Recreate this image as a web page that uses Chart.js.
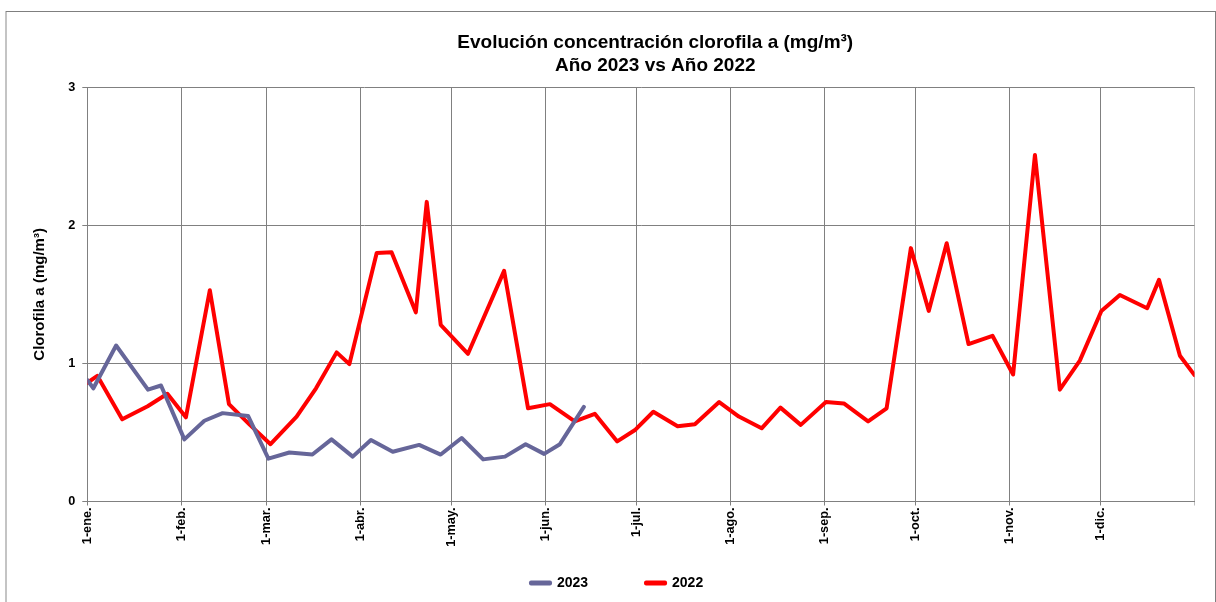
<!DOCTYPE html>
<html>
<head>
<meta charset="utf-8">
<script src="https://cdn.jsdelivr.net/npm/chart.js@4.4.1/dist/chart.umd.min.js"></script>
<style>
html,body{margin:0;padding:0;background:#fff;}
#wrap{width:1216px;height:602px;position:relative;}
</style>
</head>
<body>
<div id="wrap"><canvas id="c"></canvas></div>
<script>
// ---- data (x = day of year, 0 = 1-ene.) ----
const days2023 = [0, 2, 9.5, 20, 24.3, 32, 38.6, 44.6, 53, 59.7, 66.6, 74.2, 80.5, 87.5, 93.5, 100.7, 109.4, 116.5, 123.4, 130.5, 137.7, 144.5, 150.6, 155.8, 163.7];
const values2023 = [0.88, 0.82, 1.13, 0.81, 0.84, 0.45, 0.585, 0.64, 0.62, 0.31, 0.355, 0.34, 0.45, 0.325, 0.445, 0.36, 0.41, 0.34, 0.46, 0.305, 0.325, 0.415, 0.345, 0.415, 0.685];

const days2022 = [0, 3.3, 11.5, 19.9, 26.4, 32.5, 40.4, 46.7, 53.6, 60.4, 69, 75.4, 82.2, 86.4, 95.4, 100.3, 108.3, 111.9, 116.5, 125.5, 137.4, 145.3, 152.5, 160.7, 167.3, 174.7, 180.7, 186.6, 194.6, 200.3, 208.3, 214.8, 222.3, 228.5, 235.2, 243.5, 249.4, 257.4, 263.5, 271.5, 277.4, 283.3, 290.5, 298.4, 305.2, 312.4, 320.6, 327.2, 334.3, 340.4, 349.4, 353.3, 360.2, 365];
const values2022 = [0.86, 0.91, 0.595, 0.69, 0.78, 0.61, 1.53, 0.705, 0.555, 0.415, 0.615, 0.82, 1.08, 0.995, 1.80, 1.805, 1.37, 2.17, 1.28, 1.07, 1.67, 0.675, 0.705, 0.58, 0.635, 0.435, 0.52, 0.65, 0.545, 0.56, 0.72, 0.615, 0.53, 0.68, 0.555, 0.72, 0.71, 0.58, 0.675, 1.835, 1.38, 1.87, 1.14, 1.20, 0.92, 2.51, 0.81, 1.02, 1.38, 1.495, 1.40, 1.605, 1.055, 0.915];

const monthTickDays = [0, 31, 59, 90, 120, 151, 181, 212, 243, 273, 304, 334];
const monthTickLabels = ['1-ene.', '1-feb.', '1-mar.', '1-abr.', '1-may.', '1-jun.', '1-jul.', '1-ago.', '1-sep.', '1-oct.', '1-nov.', '1-dic.'];
const yearEndDay = 365;
const yTickValues = [0, 1, 2, 3];

const seriesNames = ['2023', '2022'];
const titleLines = ['Evolución concentración clorofila a (mg/m³)', 'Año 2023 vs Año 2022'];
const yAxisTitle = 'Clorofila a (mg/m³)';

const toPoints = (xs, ys) => xs.map((x, i) => ({x: x, y: ys[i]}));

Chart.defaults.font.family = "'Liberation Sans', Arial, sans-serif";
Chart.defaults.font.weight = 'bold';
Chart.defaults.color = '#000';

const framePlugin = {
  id: 'frame',
  beforeDraw(chart) {
    const ctx = chart.ctx;
    ctx.save();
    ctx.fillStyle = '#fff';
    ctx.fillRect(0, 0, chart.width, chart.height);
    ctx.fillStyle = '#c4c4c4';
    ctx.fillRect(5, 11, 2, chart.height - 11);
    ctx.fillStyle = '#7f7f7f';
    ctx.fillRect(6, 11, chart.width - 6, 1);
    ctx.fillRect(chart.width - 1, 11, 1, chart.height - 11);
    ctx.restore();
  }
};

const placePlugin = {
  id: 'place',
  afterLayout(chart) {
    const tb = chart.titleBlock;
    if (tb) { tb.left += 58; tb.right += 58; }
    const lg = chart.legend;
    if (lg && lg.lineWidths) {
      const pad = lg.options.labels.padding;
      const curX = (lg.left + pad + lg.right - lg.lineWidths[0]) / 2;
      const dx = 531 - curX;
      lg.left += dx; lg.right += dx;
      const newTop = 583 - 7 - pad;
      lg.bottom += newTop - lg.top;
      lg.top = newTop;
    }
  }
};

new Chart(document.getElementById('c'), {
  type: 'line',
  data: {
    datasets: [
      {
        label: seriesNames[0],
        data: toPoints(days2023, values2023),
        borderColor: '#666699',
        backgroundColor: '#666699',
        borderWidth: 4,
        pointRadius: 0,
        tension: 0,
        borderJoinStyle: 'round',
        borderCapStyle: 'round'
      },
      {
        label: seriesNames[1],
        data: toPoints(days2022, values2022),
        borderColor: '#ff0000',
        backgroundColor: '#ff0000',
        borderWidth: 4,
        pointRadius: 0,
        tension: 0,
        borderJoinStyle: 'round',
        borderCapStyle: 'round'
      }
    ]
  },
  options: {
    responsive: true,
    maintainAspectRatio: false,
    animation: false,
    devicePixelRatio: 1,
    layout: {padding: {left: 0, right: 21.5, top: 0, bottom: -31.4}},
    plugins: {
      title: {
        display: true,
        text: titleLines,
        color: '#000',
        font: {size: 19, weight: 'bold', lineHeight: 1.22},
        padding: {top: 30.8, bottom: 10.1}
      },
      legend: {
        display: true,
        position: 'bottom',
        labels: {
          boxWidth: 19,
          boxHeight: 1,
          padding: 57.9,
          color: '#000',
          font: {size: 14, weight: 'bold'}
        }
      },
      tooltip: {enabled: false}
    },
    scales: {
      x: {
        type: 'linear',
        min: 0,
        max: yearEndDay,
        afterBuildTicks: (s) => { s.ticks = monthTickDays.concat([yearEndDay]).map(v => ({value: v})); },
        afterFit: (s) => { s.height = 50; },
        ticks: {
          autoSkip: false,
          minRotation: 90,
          maxRotation: 90,
          padding: 2,
          font: {size: 12.7, weight: 'bold'},
          color: '#000',
          callback: (v) => { const i = monthTickDays.indexOf(v); return i >= 0 ? monthTickLabels[i] : ''; }
        },
        grid: {
          color: (ctx) => (ctx.tick && ctx.tick.value === yearEndDay) ? '#bdbdbd' : '#808080',
          lineWidth: 1,
          tickLength: 4,
          drawTicks: true
        },
        border: {color: '#808080', width: 1}
      },
      y: {
        min: 0,
        max: 3,
        afterBuildTicks: (s) => { s.ticks = yTickValues.map(v => ({value: v})); },
        afterFit: (s) => { s.width = 87.3; },
        ticks: {
          padding: 7,
          font: {size: 12.7, weight: 'bold'},
          color: '#000'
        },
        grid: {color: '#808080', lineWidth: 1, tickLength: 5},
        border: {color: '#808080', width: 1},
        title: {
          display: true,
          text: yAxisTitle,
          color: '#000',
          font: {size: 15, weight: 'bold', lineHeight: 1.2},
          padding: {top: 30.5, bottom: 0}
        }
      }
    }
  },
  plugins: [framePlugin, placePlugin]
});
</script>
</body>
</html>
